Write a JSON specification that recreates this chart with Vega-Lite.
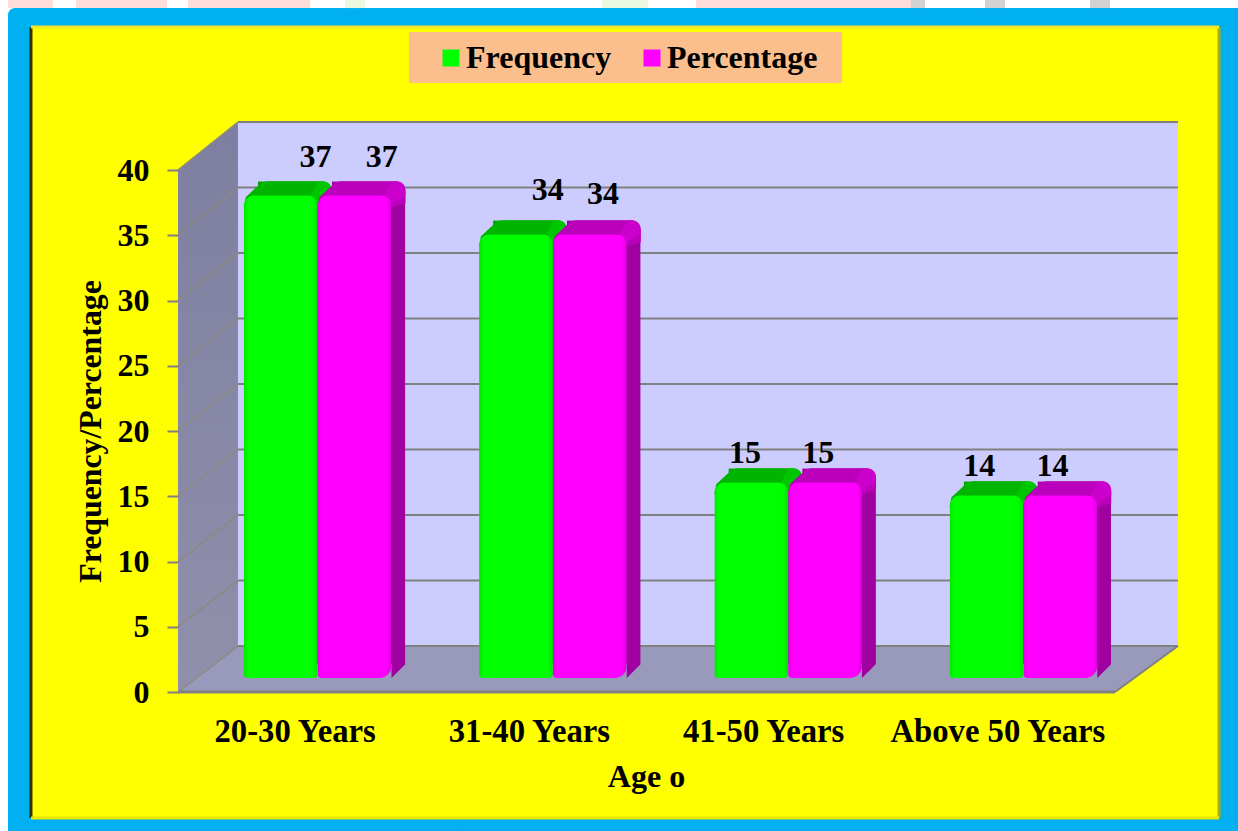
{
"$schema":"https://vega.github.io/schema/vega-lite/v6.json",
"width":1230,"height":823,"autosize":"none",
"padding":{"left":8,"top":8,"right":0,"bottom":0},
"background":"#ffffff",
"config":{"view":{"fill":"#00B0F0","stroke":null,"cornerRadius":7},"font":"Liberation Serif"},
"datasets":{
"ages":[
{"age":"20-30 Years","series":"Frequency","value":37,"base":0},{"age":"20-30 Years","series":"Percentage","value":37,"base":0},
{"age":"31-40 Years","series":"Frequency","value":34,"base":0},{"age":"31-40 Years","series":"Percentage","value":34,"base":0},
{"age":"41-50 Years","series":"Frequency","value":15,"base":0},{"age":"41-50 Years","series":"Percentage","value":15,"base":0},
{"age":"Above 50 Years","series":"Frequency","value":14,"base":0},{"age":"Above 50 Years","series":"Percentage","value":14,"base":0}],
"frameBlue":[{"a":0.3,"b":1.2,"lo":-11,"hi":52.41},{"a":-0.1814,"b":0.3,"lo":-11,"hi":-9}],
"panel":[{"a":-0.1569,"b":1.111,"lo":-9.655,"hi":50.96}],
"legendBox":[{"a":0.2465,"b":0.7087,"lo":46.67,"hi":50.57}],
"banner":[
{"a":-0.1814,"b":-0.1334,"lo":52.41,"hi":53.03,"tint":"rose"},{"a":-0.1089,"b":-0.0117,"lo":52.41,"hi":53.03,"tint":"rose"},{"a":0.0107,"b":0.1409,"lo":52.41,"hi":53.03,"tint":"rose"},{"a":0.5528,"b":0.7823,"lo":52.41,"hi":53.03,"tint":"rose"},
{"a":0.1782,"b":0.1996,"lo":52.41,"hi":53.03,"tint":"leaf"},{"a":0.4525,"b":0.5016,"lo":52.41,"hi":53.03,"tint":"leaf"},
{"a":0.7823,"b":0.7972,"lo":52.41,"hi":53.03,"tint":"ash"},{"a":0.8613,"b":0.8826,"lo":52.41,"hi":53.03,"tint":"ash"},{"a":0.9733,"b":0.9947,"lo":52.41,"hi":53.03,"tint":"ash"}],
"leftWall":[{"a":0,"lo":0,"hi":40},{"a":0.064,"lo":3.52,"hi":43.68}],
"floor":[{"a":0,"lo":0,"hi":0},{"a":0.064,"lo":0,"hi":3.52},{"a":1,"lo":0,"hi":3.52},{"a":1.0672,"lo":3.52,"hi":3.52}],
"backWall":[{"a":0.064,"b":1.0672,"lo":3.52,"hi":43.68}],
"gridBack":[{"a":0.064,"b":1.0672,"lo":3.52},{"a":0.064,"b":1.0672,"lo":8.54},{"a":0.064,"b":1.0672,"lo":13.56},{"a":0.064,"b":1.0672,"lo":18.58},{"a":0.064,"b":1.0672,"lo":23.6},{"a":0.064,"b":1.0672,"lo":28.62},{"a":0.064,"b":1.0672,"lo":33.64},{"a":0.064,"b":1.0672,"lo":38.66},{"a":0.064,"b":1.0672,"lo":43.68}],
"gridSide":[{"a":0,"b":0.064,"lo":0,"hi":3.52},{"a":0,"b":0.064,"lo":5,"hi":8.54},{"a":0,"b":0.064,"lo":10,"hi":13.56},{"a":0,"b":0.064,"lo":15,"hi":18.58},{"a":0,"b":0.064,"lo":20,"hi":23.6},{"a":0,"b":0.064,"lo":25,"hi":28.62},{"a":0,"b":0.064,"lo":30,"hi":33.64},{"a":0,"b":0.064,"lo":35,"hi":38.66},{"a":0,"b":0.064,"lo":40,"hi":43.68}],
"floorFront":[{"a":0,"b":1,"lo":0}],
"floorRight":[{"a":1,"b":1.0672,"lo":0,"hi":3.52}]
},
"resolve":{"scale":{"x":"independent","y":"independent","xOffset":"independent"}},
"layer":[
{"encoding":{
  "x":{"field":"a","type":"quantitative","axis":null,"scale":{"domain":[0,1],"range":[170,1107],"nice":false,"zero":false}},
  "y":{"field":"lo","type":"quantitative","axis":null,"scale":{"domain":[0,40],"range":[684,162],"nice":false,"zero":false}}},
 "layer":[
  {"data":{"name":"frameBlue"},"mark":{"type":"rect","color":"#00B0F0"},"encoding":{"x2":{"field":"b"},"y2":{"field":"hi"}}},
  {"data":{"name":"banner"},"transform":[{"filter":"datum.tint==='rose'"}],"mark":{"type":"rect","color":"#FFDDD8"},"encoding":{"x2":{"field":"b"},"y2":{"field":"hi"}}},
  {"data":{"name":"banner"},"transform":[{"filter":"datum.tint==='leaf'"}],"mark":{"type":"rect","color":"#EBF8E0"},"encoding":{"x2":{"field":"b"},"y2":{"field":"hi"}}},
  {"data":{"name":"banner"},"transform":[{"filter":"datum.tint==='ash'"}],"mark":{"type":"rect","color":"#D2D2D2"},"encoding":{"x2":{"field":"b"},"y2":{"field":"hi"}}},
  {"data":{"name":"panel"},"mark":{"type":"rect","color":"#FFFF00"},"encoding":{"x2":{"field":"b"},"y2":{"field":"hi"}}},
  {"data":{"name":"panel"},"mark":{"type":"rule","color":"#333300","strokeWidth":3},"encoding":{"y2":{"field":"hi"}}},
  {"data":{"name":"panel"},"mark":{"type":"rule","color":"#AFAF00","strokeWidth":3},"encoding":{"x":{"field":"b","type":"quantitative","axis":null},"y2":{"field":"hi"}}},
  {"data":{"name":"panel"},"mark":{"type":"rule","color":"#F2E82A","strokeWidth":3},"encoding":{"x2":{"field":"b"},"y":{"field":"hi","type":"quantitative","axis":null}}},
  {"data":{"name":"panel"},"mark":{"type":"rule","color":"#E6E600","strokeWidth":3},"encoding":{"x2":{"field":"b"}}},
  {"data":{"name":"legendBox"},"mark":{"type":"rect","color":"#FBBF8E"},"encoding":{"x2":{"field":"b"},"y2":{"field":"hi"}}},
  {"data":{"name":"backWall"},"mark":{"type":"rect","color":"#CCCCFF"},"encoding":{"x2":{"field":"b"},"y2":{"field":"hi"}}},
  {"data":{"name":"leftWall"},"mark":{"type":"area","color":{"gradient":"linear","x1":0,"y1":0,"x2":0,"y2":1,"stops":[{"offset":0,"color":"#7E7EA0"},{"offset":1,"color":"#9090AC"}]}},"encoding":{"y2":{"field":"hi"}}},
  {"data":{"name":"floor"},"mark":{"type":"area","color":"#9999BB"},"encoding":{"y2":{"field":"hi"}}},
  {"data":{"name":"gridSide"},"mark":{"type":"rule","color":"#8A8A80","strokeWidth":1.5},"encoding":{"x2":{"field":"b"},"y2":{"field":"hi"}}},
  {"data":{"name":"gridBack"},"mark":{"type":"rule","color":"#808080","strokeWidth":2},"encoding":{"x2":{"field":"b"}}},
  {"data":{"name":"floorFront"},"mark":{"type":"rule","color":"#808080","strokeWidth":3},"encoding":{"x2":{"field":"b"}}},
  {"data":{"name":"floorRight"},"mark":{"type":"rule","color":"#808080","strokeWidth":2},"encoding":{"x2":{"field":"b"},"y2":{"field":"hi"}}}
 ]},
{"data":{"name":"ages"},"transform":[{"filter":"datum.series==='Frequency'"}],
 "mark":{"type":"bar","color":"#00A000","cornerRadiusTopRight":11},
 "encoding":{
  "x":{"field":"age","type":"nominal","axis":null,"scale":{"domain":["20-30 Years","31-40 Years","41-50 Years","Above 50 Years"],"range":[206,1147],"paddingInner":0.3725,"paddingOuter":0.18625}},
  "xOffset":{"field":"series","type":"nominal","scale":{"domain":["Frequency","Percentage"]}},
  "y":{"field":"value","type":"quantitative","axis":null,"scale":{"domain":[0,40],"range":[656,134],"nice":false,"zero":false}}}},
{"data":{"name":"ages"},"transform":[{"filter":"datum.series==='Frequency'"}],
 "encoding":{
  "x":{"field":"age","type":"nominal","axis":null,"scale":{"domain":["20-30 Years","31-40 Years","41-50 Years","Above 50 Years"],"range":[192,1133],"paddingInner":0.3725,"paddingOuter":0.18625}},
  "xOffset":{"field":"series","type":"nominal","scale":{"domain":["Frequency","Percentage"]}},
  "y":{"field":"value","type":"quantitative","axis":null,"scale":{"domain":[0,40],"range":[670,148],"nice":false,"zero":false}}},
 "layer":[
  {"mark":{"type":"point","filled":true,"size":4,"opacity":1,"strokeWidth":0,"color":"#00B400","shape":"M-37,12 L-35,2 L-21,-11 C-18,-14 -15,-14 -10,-14 L41,-14 C48,-14 51,-10 51,-3 L51,8 L37,12 Z"}},
  {"mark":{"type":"point","filled":true,"size":4,"opacity":1,"strokeWidth":0,"color":"#00C600","shape":"M25,8 L37,8 L51,0 L51,-3 C51,-10 48,-14 41,-14 L38,-14 Z"}},
  {"mark":{"type":"bar","cornerRadiusTopLeft":11,"cornerRadiusTopRight":11,"cornerRadiusBottomLeft":4,"cornerRadiusBottomRight":4},
   "encoding":{"color":{"field":"series","type":"nominal","scale":{"domain":["Frequency","Percentage"],"range":["#00FF00","#FF00FF"]},
     "legend":{"title":null,"orient":"none","legendX":427,"legendY":34,"direction":"horizontal","columns":2,"symbolType":"square","symbolSize":289,"symbolStrokeWidth":0,"labelFont":"Liberation Serif","labelFontWeight":"bold","labelFontSize":32,"labelColor":"#000000","labelOffset":-1,"columnPadding":24,"padding":0,"labelLimit":300,"zindex":1}}}},
  {"mark":{"type":"bar","cornerRadiusTopLeft":11,"cornerRadiusTopRight":11,"cornerRadiusBottomLeft":4,"cornerRadiusBottomRight":4,"color":{"gradient":"linear","x1":0,"y1":0,"x2":1,"y2":0,"stops":[{"offset":0,"color":"rgba(0,70,0,0.14)"},{"offset":0.06,"color":"rgba(0,70,0,0)"},{"offset":0.93,"color":"rgba(0,70,0,0)"},{"offset":1,"color":"rgba(0,70,0,0.16)"}]}}}
 ]},
{"data":{"name":"ages"},"transform":[{"filter":"datum.series==='Percentage'"}],
 "encoding":{
  "x":{"field":"age","type":"nominal","axis":null,"scale":{"domain":["20-30 Years","31-40 Years","41-50 Years","Above 50 Years"],"range":[206,1147],"paddingInner":0.3725,"paddingOuter":0.18625}},
  "xOffset":{"field":"series","type":"nominal","scale":{"domain":["Frequency","Percentage"]}},
  "y":{"field":"value","type":"quantitative","axis":null,"scale":{"domain":[0,40],"range":[656,134],"nice":false,"zero":false}}},
 "mark":{"type":"bar","color":"#A000A0","cornerRadiusTopRight":11}},
{"data":{"name":"ages"},"transform":[{"filter":"datum.series==='Percentage'"}],
 "encoding":{
  "x":{"field":"age","type":"nominal","axis":null,"scale":{"domain":["20-30 Years","31-40 Years","41-50 Years","Above 50 Years"],"range":[192,1133],"paddingInner":0.3725,"paddingOuter":0.18625}},
  "xOffset":{"field":"series","type":"nominal","scale":{"domain":["Frequency","Percentage"]}},
  "y":{"field":"value","type":"quantitative","axis":null,"scale":{"domain":[0,40],"range":[670,148],"nice":false,"zero":false}}},
 "layer":[
  {"mark":{"type":"point","filled":true,"size":4,"opacity":1,"strokeWidth":0,"color":"#A000A0","shape":"M37,0 L51,-14 L37,-14 Z"},"encoding":{"y":{"field":"base","type":"quantitative","axis":null}}},
  {"mark":{"type":"point","filled":true,"size":4,"opacity":1,"strokeWidth":0,"color":"#BB00BB","shape":"M-37,12 L-35,2 L-21,-11 C-18,-14 -15,-14 -10,-14 L41,-14 C48,-14 51,-10 51,-3 L51,8 L37,12 Z"}},
  {"mark":{"type":"point","filled":true,"size":4,"opacity":1,"strokeWidth":0,"color":"#CC00CC","shape":"M25,8 L37,8 L51,0 L51,-3 C51,-10 48,-14 41,-14 L38,-14 Z"}},
  {"mark":{"type":"bar","cornerRadiusTopLeft":11,"cornerRadiusTopRight":11,"cornerRadiusBottomLeft":4,"cornerRadiusBottomRight":12},
   "encoding":{"color":{"field":"series","type":"nominal","scale":{"domain":["Frequency","Percentage"],"range":["#00FF00","#FF00FF"]}}}},
  {"mark":{"type":"bar","cornerRadiusTopLeft":11,"cornerRadiusTopRight":11,"cornerRadiusBottomLeft":4,"cornerRadiusBottomRight":12,"color":{"gradient":"linear","x1":0,"y1":0,"x2":1,"y2":0,"stops":[{"offset":0,"color":"rgba(70,0,70,0.14)"},{"offset":0.06,"color":"rgba(70,0,70,0)"},{"offset":0.93,"color":"rgba(70,0,70,0)"},{"offset":1,"color":"rgba(70,0,70,0.16)"}]}}}
 ]},
{"data":{"name":"ages"},
 "encoding":{
  "x":{"field":"age","type":"nominal","sort":null,
       "scale":{"domain":["20-30 Years","31-40 Years","41-50 Years","Above 50 Years"],"range":[192,1129],"paddingInner":0.3725,"paddingOuter":0.18625},
       "axis":{"title":"Age o","orient":"bottom","offset":-139,"domain":false,"ticks":false,"labelAngle":0,"labelOffset":-22,"labelFont":"Liberation Serif","labelFontWeight":"bold","labelFontSize":32.7,"labelColor":"#000000","labelPadding":23,"labelLimit":300,
               "titleFont":"Liberation Serif","titleFontWeight":"bold","titleFontSize":32,"titleColor":"#000000","titleAnchor":"start","titleAlign":"center","titleX":638,"titleY":69,"zindex":1}},
  "xOffset":{"field":"series","type":"nominal","scale":{"domain":["Frequency","Percentage"]}},
  "y":{"field":"value","type":"quantitative","scale":{"domain":[0,40],"range":[684,162],"nice":false,"zero":false},
       "axis":{"title":"Frequency/Percentage","orient":"left","offset":-170,"values":[0,5,10,15,20,25,30,35,40],"domain":false,"grid":false,"tickColor":"#808080","tickSize":11,"tickWidth":2,"labelFont":"Liberation Serif","labelFontWeight":"bold","labelFontSize":32,"labelColor":"#000000","labelPadding":18,
               "titleFont":"Liberation Serif","titleFontWeight":"bold","titleFontSize":31.8,"titleColor":"#000000","titleX":-71,"titleY":423,"titleAnchor":"middle","zindex":1}}
 },
 "layer":[
  {"transform":[{"filter":"datum.series==='Frequency'&&datum.value===37"}],"mark":{"type":"text","font":"Liberation Serif","fontWeight":"bold","fontSize":32,"color":"#000000","baseline":"middle","dx":35,"dy":-52},"encoding":{"text":{"field":"value","type":"quantitative"}}},
  {"transform":[{"filter":"datum.series==='Percentage'&&datum.value===37"}],"mark":{"type":"text","font":"Liberation Serif","fontWeight":"bold","fontSize":32,"color":"#000000","baseline":"middle","dx":28,"dy":-52},"encoding":{"text":{"field":"value","type":"quantitative"}}},
  {"transform":[{"filter":"datum.series==='Frequency'&&datum.value===34"}],"mark":{"type":"text","font":"Liberation Serif","fontWeight":"bold","fontSize":32,"color":"#000000","baseline":"middle","dx":33,"dy":-58},"encoding":{"text":{"field":"value","type":"quantitative"}}},
  {"transform":[{"filter":"datum.series==='Percentage'&&datum.value===34"}],"mark":{"type":"text","font":"Liberation Serif","fontWeight":"bold","fontSize":32,"color":"#000000","baseline":"middle","dx":15,"dy":-54},"encoding":{"text":{"field":"value","type":"quantitative"}}},
  {"transform":[{"filter":"datum.value<20"}],"mark":{"type":"text","font":"Liberation Serif","fontWeight":"bold","fontSize":32,"color":"#000000","baseline":"middle","dx":-4,"dy":-43},"encoding":{"text":{"field":"value","type":"quantitative"}}}
 ]}
]
}
